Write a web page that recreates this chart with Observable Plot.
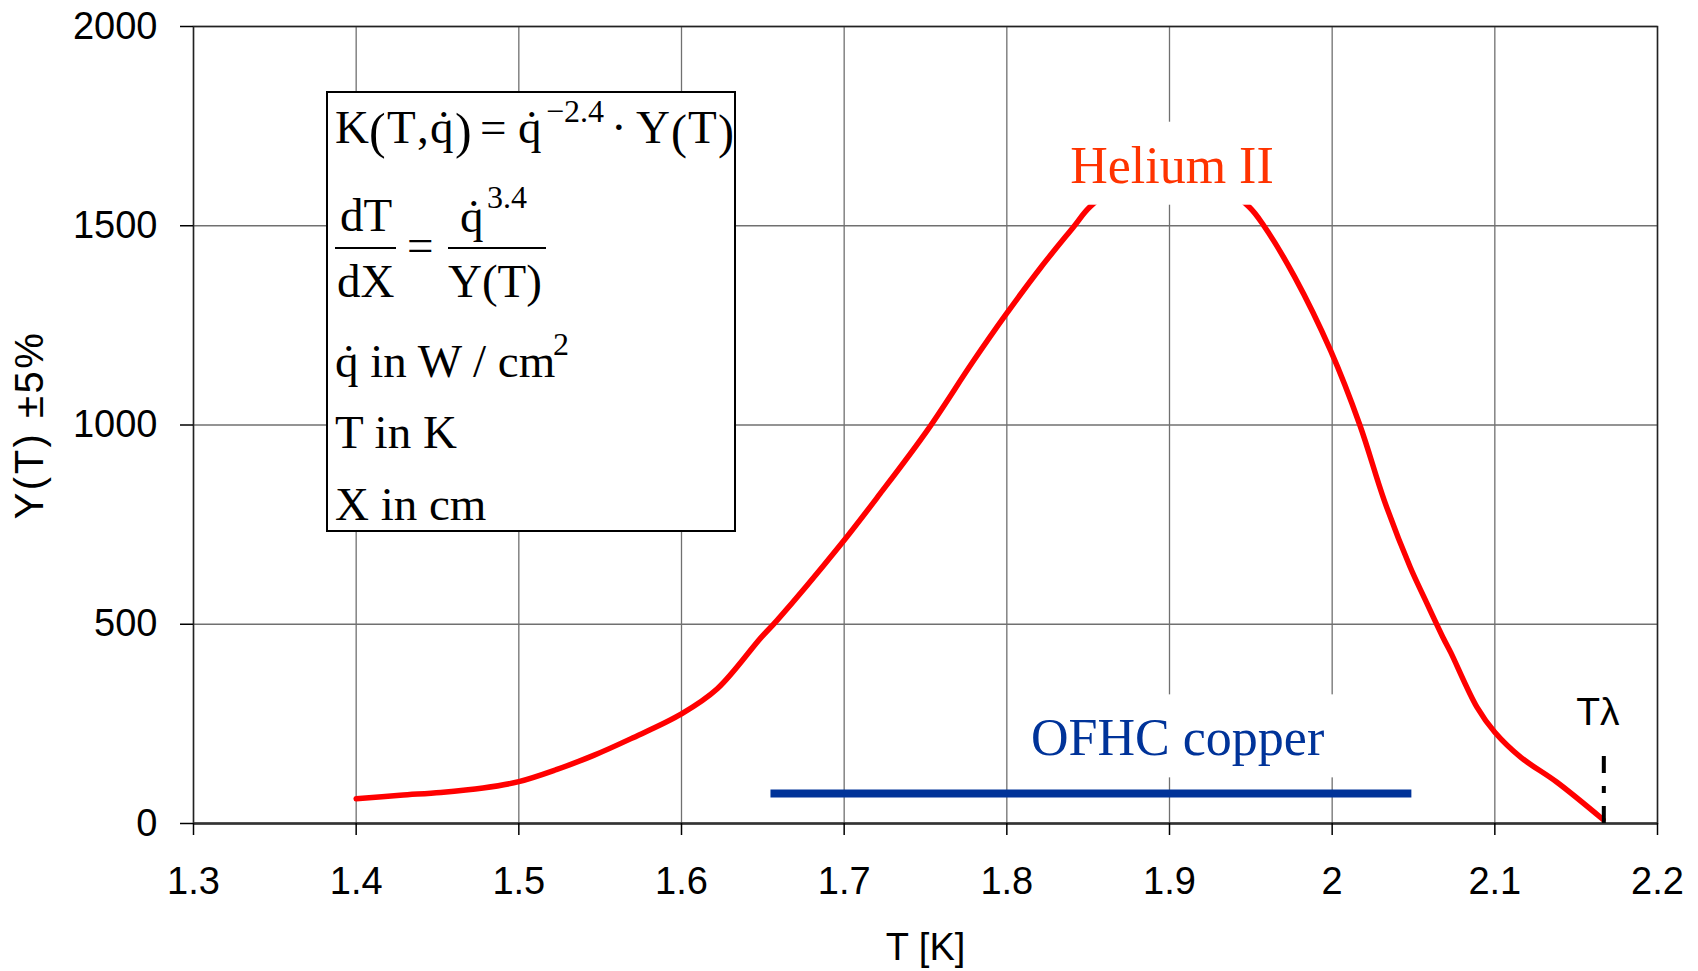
<!DOCTYPE html>
<html><head><meta charset="utf-8">
<script src="https://cdn.jsdelivr.net/npm/d3@7"></script>
<script src="https://cdn.jsdelivr.net/npm/@observablehq/plot@0.6"></script>
<style>
html,body{margin:0;padding:0;background:#fff;}
#chart{width:1698px;height:971px;}
</style></head><body><div id="chart"></div>
<script>
// Helium II Y(T) curve
const heliumT = [1.4, 1.427, 1.452, 1.478, 1.5, 1.523, 1.546, 1.569, 1.6, 1.622, 1.649, 1.6586, 1.6975, 1.722, 1.751, 1.779, 1.799, 1.821, 1.841, 1.851, 1.875, 1.9, 1.925, 1.949, 1.958, 1.977, 1.999, 2.017, 2.032, 2.048, 2.0574, 2.0686, 2.0728, 2.089, 2.1, 2.116, 2.138, 2.1665];
const heliumY = [62, 71, 78, 89, 105, 135, 171, 213, 275, 338, 467, 509, 698, 827, 986, 1158, 1275, 1396, 1497, 1547, 1620, 1660, 1620, 1547, 1500, 1371, 1187, 1000, 811, 643, 560, 463, 430, 292, 229, 166, 104, 10];
// OFHC copper range
const copperT = [1.655, 2.049];
const copperY = 75;
// lambda point
const lambdaT = 2.167;
const lambdaTop = 188;
// ticks
const xTicks = [1.3, 1.4, 1.5, 1.6, 1.7, 1.8, 1.9, 2, 2.1, 2.2];
const yTicks = [0, 500, 1000, 1500, 2000];
// labels
const labelText = ["Helium II", "OFHC copper"];
const labelT = [1.9015, 1.905];
const labelY = [1608, 171];
const labelColor = ["#ff3300", "#003399"];

const helium = heliumT.map((t, i) => ({T: t, Y: heliumY[i]}));
const labels = labelText.map((s, i) => ({text: s, T: labelT[i], Y: labelY[i], color: labelColor[i]}));

const plot = Plot.plot({
  width: 1698,
  height: 971,
  marginLeft: 193,
  marginRight: 41,
  marginTop: 26,
  marginBottom: 148,
  style: {fontFamily: "'Liberation Sans', Arial, sans-serif", background: "white", overflow: "visible"},
  x: {domain: [1.3, 2.2]},
  y: {domain: [0, 2000]},
  marks: [
    Plot.gridX(xTicks, {stroke: "#707070", strokeOpacity: 1, strokeWidth: 1.3}),
    Plot.gridY(yTicks, {stroke: "#707070", strokeOpacity: 1, strokeWidth: 1.3}),
    Plot.frame({stroke: "#222", strokeWidth: 1.5}),
    Plot.ruleY([0], {stroke: "#333", strokeWidth: 2.5}),
    Plot.line(helium, {x: "T", y: "Y", stroke: "#ff0000", strokeWidth: 5.5, curve: "catmull-rom"}),
    Plot.ruleY([copperY], {x1: copperT[0], x2: copperT[1], stroke: "#003399", strokeWidth: 8}),
    Plot.ruleX([lambdaT], {y1: 0, y2: lambdaTop, stroke: "black", strokeWidth: 4, strokeDasharray: "17,13,7,13"}),
    Plot.text(labels, {x: "T", y: "Y", text: "text", fill: "color", fontSize: 52, fontFamily: "'Liberation Serif', 'Times New Roman', serif", lineAnchor: "bottom", textAnchor: "middle"}),
    Plot.text(["Tλ"], {x: lambdaT, y: 248, text: d => d, fontSize: 39, lineAnchor: "bottom", textAnchor: "middle", dx: -6, fill: "black"}),
    Plot.axisX(xTicks, {tickSize: 12, tickPadding: 32, fontSize: 38, tickFormat: d => String(d), label: "T [K]", labelAnchor: "center", labelOffset: 136, labelArrow: "none", strokeWidth: 1.5}),
    Plot.axisY(yTicks, {tickSize: 13, tickPadding: 23, fontSize: 38, tickFormat: d => String(d), label: "Y(T) ±5%", labelAnchor: "center", labelOffset: 179, labelArrow: "none", strokeWidth: 1.5})
  ]
});
document.getElementById("chart").appendChild(plot);

const svg = d3.select(plot);
const svgRect = plot.getBoundingClientRect();
// white boxes behind the in-chart labels; size of y title
plot.querySelectorAll("text").forEach(t => {
  const s = t.textContent;
  if (labelText.includes(s)) {
    const r = t.getBoundingClientRect();
    const rect = document.createElementNS("http://www.w3.org/2000/svg", "rect");
    rect.setAttribute("x", r.left - svgRect.left - 12);
    rect.setAttribute("y", r.top - svgRect.top - 15);
    rect.setAttribute("width", r.width + 24);
    rect.setAttribute("height", r.height + 26);
    rect.setAttribute("fill", "white");
    const g = t.parentNode;
    g.parentNode.insertBefore(rect, g);
  } else if (s.startsWith("Y(T)")) {
    t.style.fontSize = "40px";
    t.style.letterSpacing = "2.5px";
  }
});

// formula box
const serif = "'Liberation Serif', 'Times New Roman', serif";
const box = svg.append("g").attr("font-family", serif).attr("fill", "black").attr("text-anchor", "start");
box.append("rect").attr("x", 327).attr("y", 92).attr("width", 408).attr("height", 439)
  .attr("fill", "white").attr("stroke", "black").attr("stroke-width", 2);
const Q = "q\u0307";
// each line: one text element with absolutely placed tspans [x, y, string, size]
function line(parts) {
  const el = box.append("text").attr("text-anchor", "start");
  parts.forEach(([x, y, s, size]) => {
    el.append("tspan").attr("x", x).attr("y", y).attr("font-size", size || 47).text(s);
  });
}
// K(T,q̇) = q̇^−2.4 · Y(T)
line([
  [335, 143, "K"], [369, 148, "(", 50], [387, 143, "T"], [417, 143, ","], [430, 143, Q],
  [455, 148, ")", 50], [480, 143, "="], [518, 143, Q], [546, 122, "−2.4", 32],
  [611, 143, "·"], [636, 143, "Y"], [671, 148, "(", 48], [688, 143, "T"], [718, 148, ")", 48]
]);
// dT/dX = q̇^3.4 / Y(T)
line([[340, 231, "dT"], [460, 232, Q], [487, 208, "3.4", 32]]);
line([[407, 261, "="]]);
line([[337, 297, "dX"], [448, 297, "Y(T)"]]);
box.append("line").attr("x1", 335).attr("x2", 396).attr("y1", 248).attr("y2", 248).attr("stroke", "black").attr("stroke-width", 2);
box.append("line").attr("x1", 448).attr("x2", 546).attr("y1", 248).attr("y2", 248).attr("stroke", "black").attr("stroke-width", 2);
// q̇ in W / cm²
line([[335, 377, Q + " in W / cm"], [553, 355, "2", 32]]);
line([[335, 448, "T in K"]]);
line([[335, 520, "X in cm"]]);
</script></body></html>
